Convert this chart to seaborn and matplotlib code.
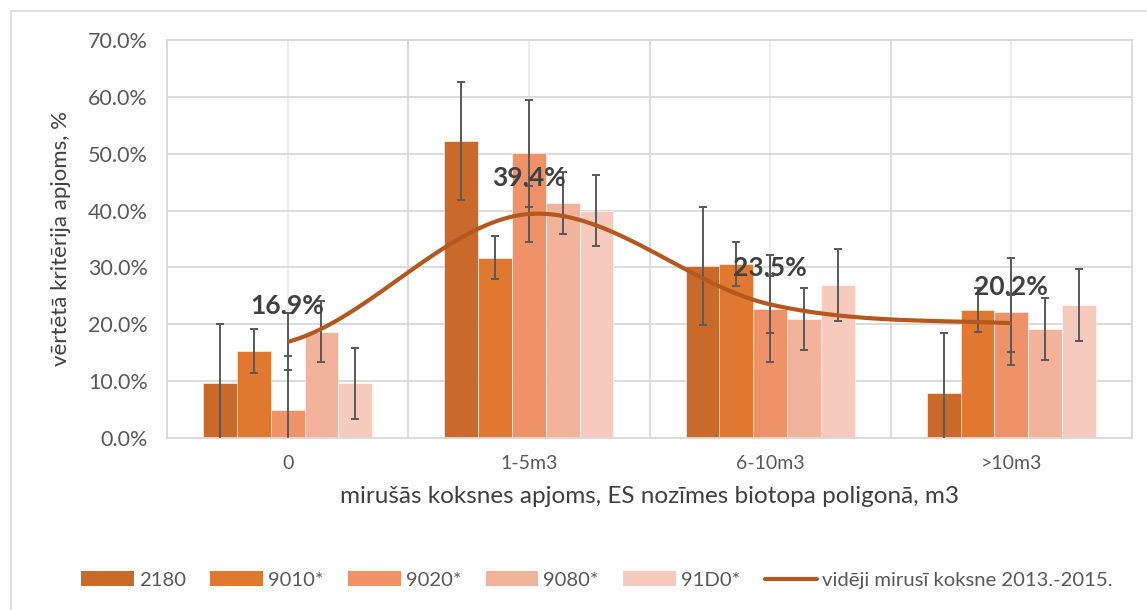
import numpy as np
import pandas as pd
import matplotlib
matplotlib.use("Agg")
import matplotlib.pyplot as plt
import seaborn as sns
from matplotlib.patches import Patch
from matplotlib.lines import Line2D

# data
categories = ["0", "1-5m3", "6-10m3", ">10m3"]
series = ["2180", "9010*", "9020*", "9080*", "91D0*"]
v_2180 = [9.6, 52.2, 30.2, 8.0]
v_9010 = [15.3, 31.7, 30.6, 22.5]
v_9020 = [5.0, 50.1, 22.7, 22.2]
v_9080 = [18.7, 41.3, 20.9, 19.2]
v_91d0 = [9.6, 40.0, 26.9, 23.4]
err = [10.4, 3.8, 9.4, 5.4, 6.3]          # one error size per series
line_vals = [16.9, 39.4, 23.5, 20.2]
line_err = 5.0
line_name = "vidēji mirusī koksne 2013.-2015."

colors = ["#C96A2A", "#E07830", "#EF9267", "#F2B39A", "#F6CBBD"]
line_color = "#B5581F"
err_color = "#595959"

sns.set_theme(style="white")
plt.rcParams["font.family"] = ["Lato", "DejaVu Sans"]

rows = []
for s, vals in zip(series, [v_2180, v_9010, v_9020, v_9080, v_91d0]):
    for c, v in zip(categories, vals):
        rows.append({"cat": c, "series": s, "value": v})
df = pd.DataFrame(rows)

fig = plt.figure(figsize=(11.47, 6.10), dpi=100)
ax = fig.add_axes([167 / 1147, 1 - 438 / 610, (1132 - 167) / 1147, (438 - 40) / 610])

sns.barplot(data=df, x="cat", y="value", hue="series", order=categories,
            hue_order=series, palette=colors, saturation=1, width=0.7, gap=0,
            edgecolor="white", linewidth=0.4, errorbar=None, legend=False,
            ax=ax, zorder=2)

# error bars on each bar, from the bar positions
bars = ax.patches
for i, s in enumerate(series):
    for j in range(len(categories)):
        b = bars[i * len(categories) + j]
        xc = b.get_x() + b.get_width() / 2
        ax.errorbar(xc, b.get_height(), yerr=err[i], color=err_color,
                    capsize=3, elinewidth=1.4, capthick=1.4, zorder=4)

# smoothed average line (Catmull-Rom through the points)
px = np.arange(len(line_vals), dtype=float)
py = np.array(line_vals)
pts_x = np.concatenate([[2 * px[0] - px[1]], px, [2 * px[-1] - px[-2]]])
pts_y = np.concatenate([[py[0]], py, [py[-1]]])
cx, cy = [], []
for k in range(1, len(pts_x) - 2):
    t = np.linspace(0, 1, 40)
    p0, p1, p2, p3 = [np.array([pts_x[k + d], pts_y[k + d]]) for d in (-1, 0, 1, 2)]
    m1 = (p2 - p0) / 2
    m2 = (p3 - p1) / 2
    h00 = 2 * t**3 - 3 * t**2 + 1
    h10 = t**3 - 2 * t**2 + t
    h01 = -2 * t**3 + 3 * t**2
    h11 = t**3 - t**2
    seg = np.outer(h00, p1) + np.outer(h10, m1) + np.outer(h01, p2) + np.outer(h11, m2)
    cx.extend(seg[:, 0])
    cy.extend(seg[:, 1])
ax.plot(cx, cy, color=line_color, lw=3, zorder=5, solid_capstyle="butt")
ax.errorbar(px, py, yerr=line_err, fmt="none", ecolor=err_color, capsize=3,
            elinewidth=1.4, capthick=1.4, zorder=4)
for xi, yi in zip(px, py):
    ax.annotate(f"{yi:.1f}%", (xi, yi), xytext=(0, 26), textcoords="offset points",
                ha="center", va="center", fontsize=19, fontweight="bold",
                color="#404040", zorder=6)

ax.set_ylim(0, 70)
ax.set_xlim(-0.5, 3.5)
ax.set_yticks(np.arange(0, 71, 10))
ax.set_yticklabels([f"{t:.1f}%" for t in np.arange(0, 71, 10)])
ax.set_xticks(range(len(categories)))
ax.set_xticklabels(categories)
ax.tick_params(axis="both", length=0, labelcolor="#595959")
ax.tick_params(axis="y", pad=14, labelsize=15.5)
ax.tick_params(axis="x", pad=12, labelsize=14)

# gridlines: horizontal, category boundaries and centres
ax.set_axisbelow(True)
ax.grid(axis="y", color="#D9D9D9", lw=1.3, zorder=0)
for xb in np.arange(-0.5, 4.0, 1.0):
    ax.axvline(xb, color="#D9D9D9", lw=1.3, zorder=0)
for xb in range(len(categories)):
    ax.axvline(xb, color="#EBEBEB", lw=1.3, zorder=0)
for sp in ax.spines.values():
    sp.set_color("#D9D9D9")
    sp.set_linewidth(1.3)

ax.set_ylabel("vērtētā kritērija apjoms, %", fontsize=16, color="#404040", labelpad=12)
ax.set_xlabel("mirušās koksnes apjoms, ES nozīmes biotopa poligonā, m3", fontsize=17.5,
              color="#404040", labelpad=10)

handles = [Patch(facecolor=c, edgecolor="none") for c in colors]
handles.append(Line2D([0], [0], color=line_color, lw=3))
fig.legend(handles, series + [line_name], loc="center", bbox_to_anchor=(597 / 1147, 1 - 580 / 610),
           ncol=6, frameon=False, fontsize=14.6, labelcolor="#595959",
           handlelength=2.6, handleheight=0.7, handletextpad=0.25, columnspacing=1.2)

# chart-area border (top and left visible)
fig.add_artist(Line2D([11 / 1147, 11 / 1147], [0, 1 - 11 / 610], color="#D9D9D9", lw=1.2))
fig.add_artist(Line2D([11 / 1147, 1], [1 - 11 / 610, 1 - 11 / 610], color="#D9D9D9", lw=1.2))

fig.savefig("out.png", dpi=100)
